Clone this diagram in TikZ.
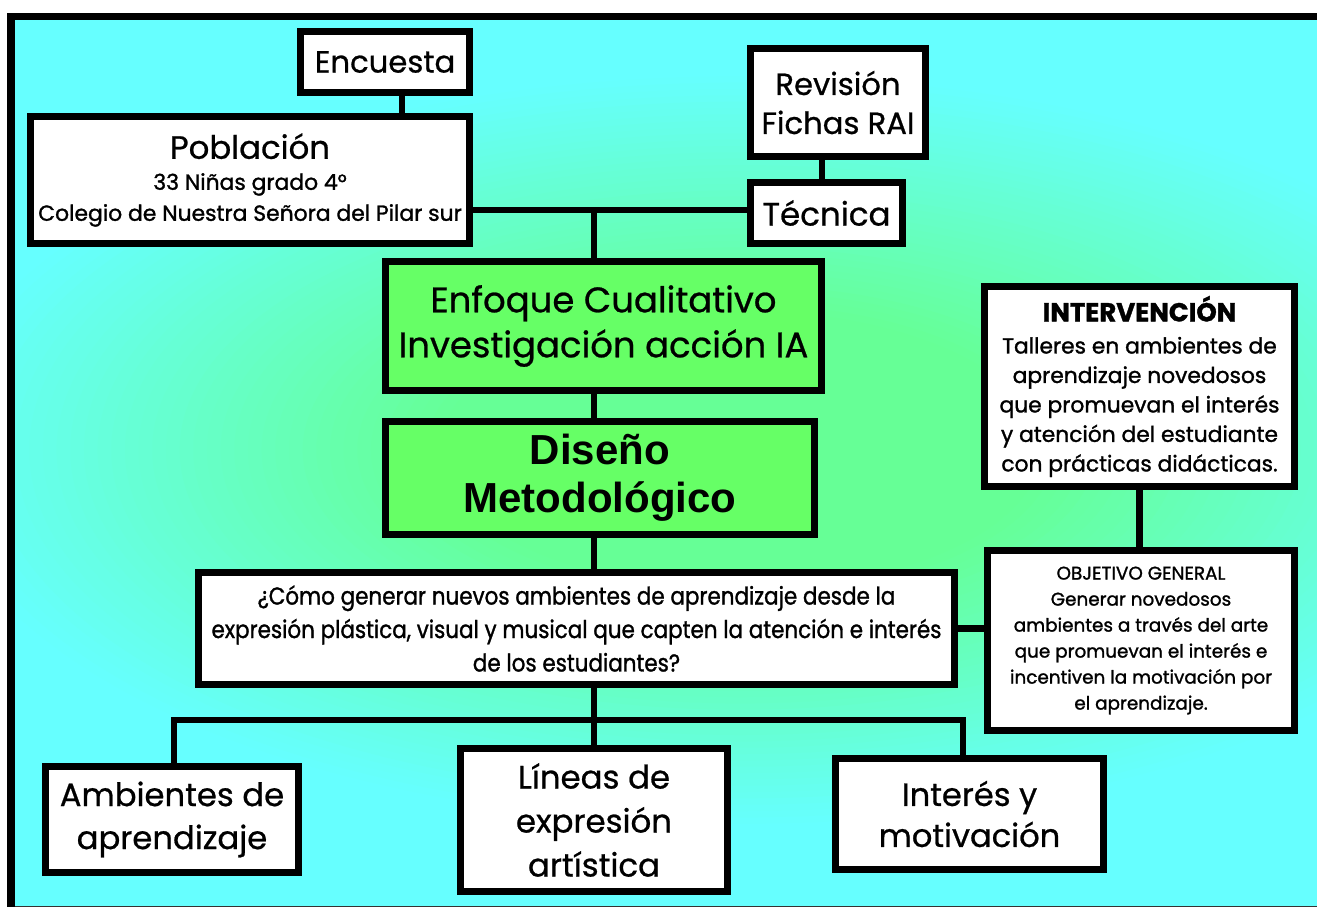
\documentclass[tikz,border=0pt]{standalone}
\usepackage{fontspec}
\setmainfont{Poppins}
\newfontfamily\pbig[FakeBold=0.7]{Poppins}
\newfontfamily\psemi[FakeBold=1.3]{Poppins}
\newfontfamily\pcond[FakeStretch=0.88,FakeBold=1.2]{Poppins}
\newfontfamily\arialf{Liberation Sans}
\definecolor{bgcyan}{RGB}{102,255,255}
\definecolor{bgmint}{RGB}{102,255,150}
\definecolor{boxgreen}{RGB}{102,255,102}
\begin{document}
\begin{tikzpicture}[x=0.75pt,y=-0.75pt,
  box/.style={draw=black,line width=5.25pt,fill=white,inner sep=0pt,align=center,text=black},
  gbox/.style={box,fill=boxgreen},
  conn/.style={draw=black,line width=5pt}]
\useasboundingbox (0,0) rectangle (1317,908);
\fill[white] (0,0) rectangle (1317,908);
\begin{scope}
\clip (15,20) rectangle (1317,906);
\fill[bgcyan] (15,20) rectangle (1317,906);
\foreach \k in {0,...,59}{
  \pgfmathsetmacro\s{1-\k/60}
  \pgfmathtruncatemacro\p{min(100,100*(1-\s)*1.6)}
  \fill[bgmint!\p!bgcyan] (740,450) ellipse [x radius={820*\s}, y radius={380*\s}];
}
\end{scope}
\fill[black] (7,13) rectangle (1317,20);
\fill[black] (7,13) rectangle (15,907);
\fill[black!80] (15,905.5) rectangle (1317,907);

% nodes
\node[box,minimum width=169*0.75pt,minimum height=61*0.75pt,font=\pbig\fontsize{23}{29}\selectfont] (enc) at (385,62) {Encuesta};
\node[box,minimum width=439*0.75pt,minimum height=127*0.75pt,font=\psemi\fontsize{16.4}{23.25}\selectfont] (pob) at (250,180)
 {{\pbig\fontsize{24.25}{30}\selectfont Población}\\
  33 Niñas grado 4°\\Colegio de Nuestra Señora del Pilar sur};
\node[box,minimum width=175*0.75pt,minimum height=108*0.75pt,font=\pbig\fontsize{23}{29.25}\selectfont] (rev) at (838,102.5) {Revisión\\Fichas RAI};
\node[box,minimum width=152*0.75pt,minimum height=61*0.75pt,font=\pbig\fontsize{24.4}{29}\selectfont] (tec) at (826.5,213) {Técnica};
\node[gbox,minimum width=436*0.75pt,minimum height=129*0.75pt,font=\pbig\fontsize{26.6}{33.75}\selectfont] (enf) at (603.5,326) {Enfoque Cualitativo\\Investigación acción IA};
\node[gbox,minimum width=429*0.75pt,minimum height=113*0.75pt,font=\arialf\bfseries\fontsize{31.5}{36}\selectfont] (dis) at (600,478) {Diseño\\Metodológico};
\node[box,minimum width=756*0.75pt,minimum height=112*0.75pt,font=\pcond\fontsize{18.3}{25.1}\selectfont] (q) at (576.5,628.5)
 {¿Cómo generar nuevos ambientes de aprendizaje desde la\\expresión plástica, visual y musical que capten la atención e interés\\de los estudiantes?};
\node[box,minimum width=310*0.75pt,minimum height=200*0.75pt,font=\psemi\fontsize{16.35}{22.1}\selectfont] (int) at (1139.5,386.5)
 {{\bfseries\fontsize{19.5}{24}\selectfont INTERVENCIÓN}\\[2pt]
  Talleres en ambientes de\\aprendizaje novedosos\\que promuevan el interés\\y atención del estudiante\\con prácticas didácticas.};
\node[box,minimum width=307*0.75pt,minimum height=180*0.75pt,font=\psemi\fontsize{13.8}{19.5}\selectfont] (obj) at (1141,640.5)
 {OBJETIVO GENERAL\\Generar novedosos\\ambientes a través del arte\\que promuevan el interés e\\incentiven la motivación por\\el aprendizaje.};
\node[box,minimum width=253*0.75pt,minimum height=106*0.75pt,font=\pbig\fontsize{24.2}{32.25}\selectfont] (amb) at (172,819.5) {Ambientes de\\aprendizaje};
\node[box,minimum width=267*0.75pt,minimum height=143*0.75pt,font=\pbig\fontsize{24.3}{33}\selectfont] (lin) at (594,820) {Líneas de\\expresión\\artística};
\node[box,minimum width=268*0.75pt,minimum height=111*0.75pt,font=\pbig\fontsize{24.1}{30.75}\selectfont] (ire) at (969.5,814) {Interés y\\motivación};

% connectors
\coordinate (j1) at (594,210);
\coordinate (bus) at (594,720);
\draw[conn] ([xshift=12.75pt]enc.south) -- ([xshift=12.75pt]enc.south |- pob.north);
\draw[conn] ([yshift=-22.5pt]pob.east) -- ([yshift=-22.5pt]pob.east -| tec.west);
\draw[conn] (j1) -- (j1 |- enf.north);
\draw[conn] ([xshift=-12pt]rev.south) -- ([xshift=-12pt]rev.south |- tec.north);
\draw[conn] (j1 |- enf.south) -- (j1 |- dis.north);
\draw[conn] (j1 |- dis.south) -- (j1 |- q.north);
\draw[conn] (q.east) -- (q.east -| obj.west);
\draw[conn] (int.south) -- (int.south |- obj.north);
\draw[conn] (j1 |- q.south) -- (bus);
\draw[conn] ([xshift=1.5pt]amb.north) |- (bus) -| ([xshift=-4.875pt]ire.north);
\draw[conn] (bus) -- (bus |- lin.north);
\end{tikzpicture}
\end{document}
